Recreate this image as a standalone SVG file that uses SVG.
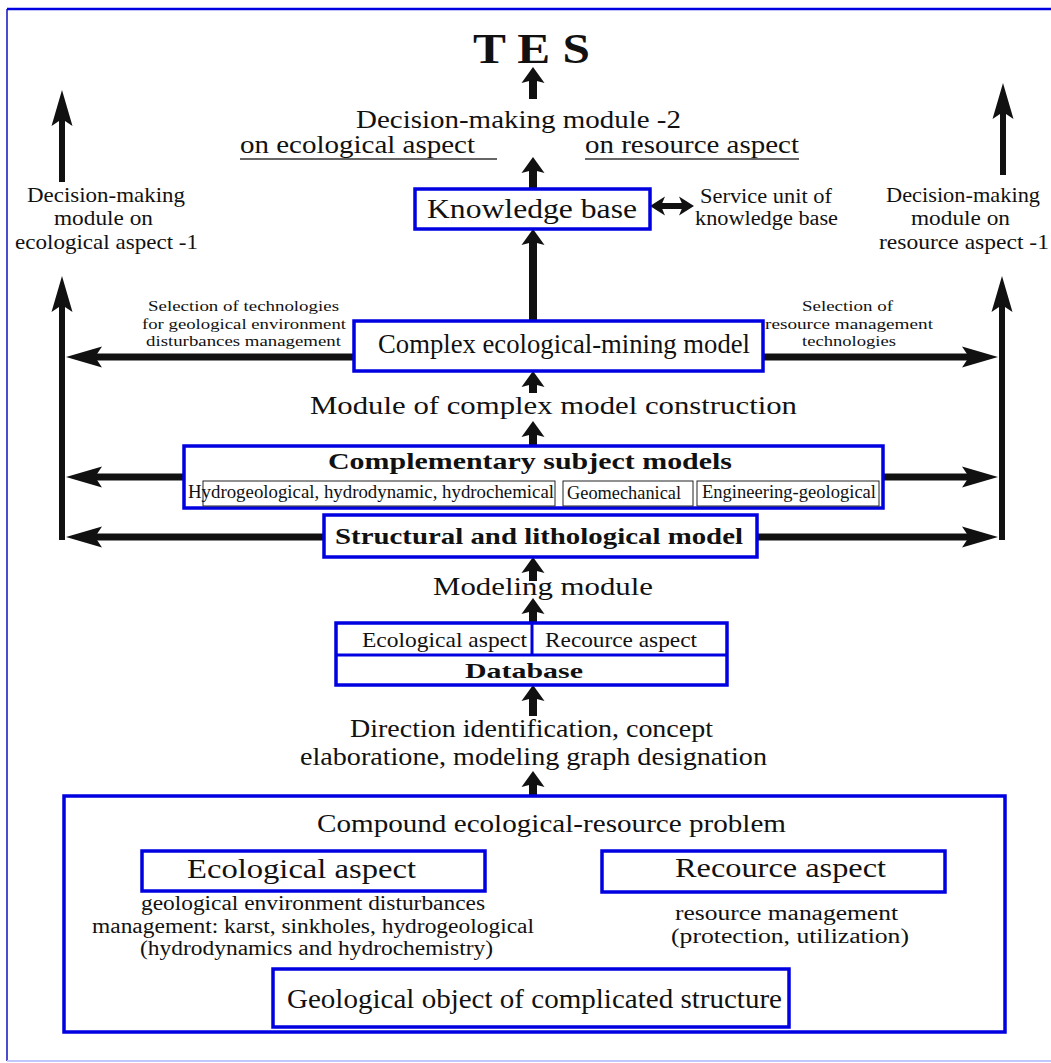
<svg xmlns="http://www.w3.org/2000/svg" width="1051" height="1063" viewBox="0 0 1051 1063">
<defs>
<style>
.t{font-family:"Liberation Serif","Times New Roman",serif;fill:#111}
.b{font-weight:bold}
.box{fill:#fff;stroke:#0000e0;stroke-width:3.5}
.sub{fill:#fff;stroke:#222;stroke-width:1}
.big{stroke:#111;stroke-width:7;fill:none;marker-end:url(#ah)}
.sm{stroke:#111;stroke-width:8;fill:none;marker-end:url(#as)}
.vl{stroke:#111;stroke-width:6;fill:none}
</style>
<marker id="ah" markerUnits="userSpaceOnUse" viewBox="-37 -11 38 22" markerWidth="38" markerHeight="22" refX="-24" refY="0" orient="auto">
<path d="M0,0 L-36,-10.5 L-29,0 L-36,10.5 Z" fill="#111"/>
</marker>
<marker id="as" markerUnits="userSpaceOnUse" viewBox="-17 -12 18 24" markerWidth="18" markerHeight="24" refX="-8" refY="0" orient="auto">
<path d="M0,0 L-16,-11.5 L-13,0 L-16,11.5 Z" fill="#111"/>
</marker>
<marker id="ad" markerUnits="userSpaceOnUse" viewBox="-16 -10 17 20" markerWidth="17" markerHeight="20" refX="-7" refY="0" orient="auto-start-reverse">
<path d="M0,0 L-15,-9.5 L-11,0 L-15,9.5 Z" fill="#111"/>
</marker>
</defs>
<rect width="1051" height="1063" fill="#fff"/>
<g id="frame">
<line x1="7" y1="9" x2="1051" y2="9" stroke="#0000e0" stroke-width="2.5"/>
<line x1="7" y1="9" x2="7" y2="1061" stroke="#1010c0" stroke-width="1.5"/>
<line x1="7" y1="1061" x2="1051" y2="1061" stroke="#c0c8ff" stroke-width="2"/>
</g>

<g id="connectors">
<path class="vl" d="M62,182 V114" marker-end="url(#ah)"/>
<path class="vl" d="M1003,175 V107" marker-end="url(#ah)"/>
<path class="vl" d="M62,540 V300" marker-end="url(#ah)"/>
<path class="vl" d="M1002,540 V300" marker-end="url(#ah)"/>
<path class="big" d="M354,357 H90"/>
<path class="big" d="M763,357 H974"/>
<path class="big" d="M184,477 H90"/>
<path class="big" d="M883,477 H974"/>
<path class="big" d="M324,537 H90"/>
<path class="big" d="M757,537 H974"/>
<path class="sm" d="M533,99 V75"/>
<path class="sm" d="M533,188 V165"/>
<path class="sm" d="M533,321 V237"/>
<path class="sm" d="M533,393 V379"/>
<path class="sm" d="M533,446 V429"/>
<path class="sm" d="M533,581 V565"/>
<path class="sm" d="M533,623 V606"/>
<path class="sm" d="M533,716 V693"/>
<path class="sm" d="M533,796 V779"/>
<path d="M657,206 H687" stroke="#111" stroke-width="6" marker-start="url(#ad)" marker-end="url(#ad)"/>
<line x1="240" y1="159" x2="497" y2="159" stroke="#333" stroke-width="1.5"/>
<line x1="585" y1="159" x2="799" y2="159" stroke="#333" stroke-width="1.5"/>
</g>

<g id="tes">
<text class="t b" x="473" y="63" font-size="43" textLength="117" lengthAdjust="spacingAndGlyphs">T E S</text>
</g>
<g id="dm2">
<text class="t" x="356" y="128" font-size="26" textLength="325" lengthAdjust="spacingAndGlyphs">Decision-making module -2</text>
<text class="t" x="240" y="153" font-size="26" textLength="235" lengthAdjust="spacingAndGlyphs">on ecological aspect</text>
<text class="t" x="585" y="153" font-size="26" textLength="214" lengthAdjust="spacingAndGlyphs">on resource aspect</text>
</g>
<g id="dm1-left">
<text class="t" font-size="21">
<tspan x="27" y="202" textLength="158" lengthAdjust="spacingAndGlyphs">Decision-making</tspan>
<tspan x="54" y="225" textLength="99" lengthAdjust="spacingAndGlyphs">module on</tspan>
<tspan x="15" y="249" textLength="183" lengthAdjust="spacingAndGlyphs">ecological aspect -1</tspan>
</text>
</g>
<g id="dm1-right">
<text class="t" font-size="21">
<tspan x="886" y="202" textLength="154" lengthAdjust="spacingAndGlyphs">Decision-making</tspan>
<tspan x="911" y="225" textLength="99" lengthAdjust="spacingAndGlyphs">module on</tspan>
<tspan x="879" y="249" textLength="170" lengthAdjust="spacingAndGlyphs">resource aspect -1</tspan>
</text>
</g>
<g id="kb">
<rect class="box" x="415" y="189" width="235" height="40"/>
<text class="t" x="427" y="218" font-size="27" textLength="210" lengthAdjust="spacingAndGlyphs">Knowledge base</text>
</g>
<g id="service">
<text class="t" font-size="20">
<tspan x="700" y="203" textLength="132" lengthAdjust="spacingAndGlyphs">Service unit of</tspan>
<tspan x="695" y="225" textLength="143" lengthAdjust="spacingAndGlyphs">knowledge base</tspan>
</text>
</g>
<g id="sel-left">
<text class="t" font-size="15">
<tspan x="148" y="311" textLength="191" lengthAdjust="spacingAndGlyphs">Selection of technologies</tspan>
<tspan x="142" y="328.5" textLength="204" lengthAdjust="spacingAndGlyphs">for geological environment</tspan>
<tspan x="146" y="346" textLength="195" lengthAdjust="spacingAndGlyphs">disturbances management</tspan>
</text>
</g>
<g id="sel-right">
<text class="t" font-size="15">
<tspan x="802" y="311" textLength="91" lengthAdjust="spacingAndGlyphs">Selection of</tspan>
<tspan x="765" y="328.5" textLength="168" lengthAdjust="spacingAndGlyphs">resource management</tspan>
<tspan x="802" y="346" textLength="94" lengthAdjust="spacingAndGlyphs">technologies</tspan>
</text>
</g>
<g id="complex">
<rect class="box" x="354" y="321" width="409" height="50"/>
<text class="t" x="378" y="353" font-size="27" textLength="372" lengthAdjust="spacingAndGlyphs">Complex ecological-mining model</text>
</g>
<g id="module-complex">
<text class="t" x="310" y="414" font-size="25" textLength="487" lengthAdjust="spacingAndGlyphs">Module of complex model construction</text>
</g>
<g id="complementary">
<rect class="box" x="184" y="446" width="699" height="62"/>
<text class="t b" x="328" y="469" font-size="23" textLength="404" lengthAdjust="spacingAndGlyphs">Complementary subject models</text>
<rect class="sub" x="203" y="481" width="352" height="25"/>
<rect class="sub" x="563" y="481" width="130" height="25"/>
<rect class="sub" x="697" y="481" width="182" height="25"/>
<text class="t" x="188" y="498" font-size="18" textLength="366" lengthAdjust="spacingAndGlyphs">Hydrogeological, hydrodynamic, hydrochemical</text>
<text class="t" x="567" y="499" font-size="18" textLength="114" lengthAdjust="spacingAndGlyphs">Geomechanical</text>
<text class="t" x="702" y="498" font-size="18" textLength="174" lengthAdjust="spacingAndGlyphs">Engineering-geological</text>
</g>
<g id="structural">
<rect class="box" x="324" y="515" width="433" height="42"/>
<text class="t b" x="335" y="544" font-size="23" textLength="408" lengthAdjust="spacingAndGlyphs">Structural and lithological model</text>
</g>
<g id="modeling">
<text class="t" x="433" y="595" font-size="25" textLength="220" lengthAdjust="spacingAndGlyphs">Modeling module</text>
</g>
<g id="database">
<rect class="box" x="336" y="623" width="391" height="62" stroke-width="3"/>
<line x1="336" y1="655" x2="727" y2="655" stroke="#0000e0" stroke-width="3"/>
<line x1="532" y1="623" x2="532" y2="655" stroke="#0000e0" stroke-width="3"/>
<text class="t" x="362" y="647" font-size="21" textLength="165" lengthAdjust="spacingAndGlyphs">Ecological aspect</text>
<text class="t" x="545" y="647" font-size="21" textLength="152" lengthAdjust="spacingAndGlyphs">Recource aspect</text>
<text class="t b" x="465" y="678" font-size="22" textLength="118" lengthAdjust="spacingAndGlyphs">Database</text>
</g>
<g id="direction">
<text class="t" x="350" y="737" font-size="25" textLength="363" lengthAdjust="spacingAndGlyphs">Direction identification, concept</text>
<text class="t" x="300" y="765" font-size="25" textLength="467" lengthAdjust="spacingAndGlyphs">elaboratione, modeling graph designation</text>
</g>
<g id="problem">
<rect class="box" x="64" y="796" width="941" height="236" stroke-width="4"/>
<text class="t" x="317" y="832" font-size="25" textLength="469" lengthAdjust="spacingAndGlyphs">Compound ecological-resource problem</text>
</g>
<g id="eco-aspect">
<rect class="box" x="142" y="851" width="343" height="40"/>
<text class="t" x="187" y="878" font-size="28" textLength="229" lengthAdjust="spacingAndGlyphs">Ecological aspect</text>
<text class="t" font-size="20">
<tspan x="141" y="910" textLength="344" lengthAdjust="spacingAndGlyphs">geological environment disturbances</tspan>
<tspan x="92" y="933" textLength="442" lengthAdjust="spacingAndGlyphs">management: karst, sinkholes, hydrogeological</tspan>
<tspan x="140" y="955" textLength="353" lengthAdjust="spacingAndGlyphs">(hydrodynamics and hydrochemistry)</tspan>
</text>
</g>
<g id="res-aspect">
<rect class="box" x="602" y="851" width="343" height="41"/>
<text class="t" x="675" y="877" font-size="28" textLength="211" lengthAdjust="spacingAndGlyphs">Recource aspect</text>
<text class="t" font-size="20">
<tspan x="675" y="920" textLength="223" lengthAdjust="spacingAndGlyphs">resource management</tspan>
<tspan x="671" y="943" textLength="238" lengthAdjust="spacingAndGlyphs">(protection, utilization)</tspan>
</text>
</g>
<g id="geo-object">
<rect class="box" x="273" y="969" width="516" height="58"/>
<text class="t" x="287" y="1008" font-size="28" textLength="495" lengthAdjust="spacingAndGlyphs">Geological object of complicated structure</text>
</g>
</svg>
